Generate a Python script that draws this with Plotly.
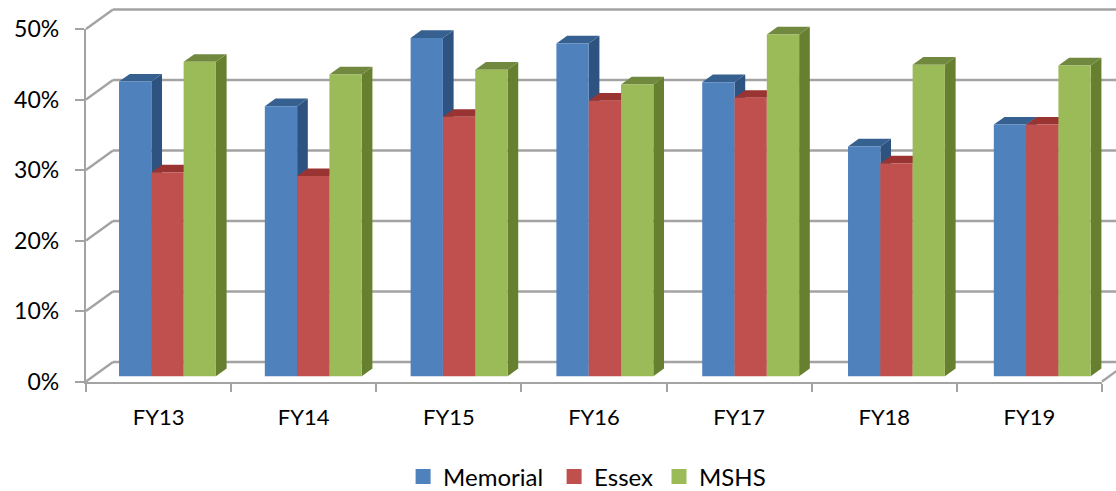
import plotly.graph_objects as go

# Series values in percent
categories = ["FY13", "FY14", "FY15", "FY16", "FY17", "FY18", "FY19"]
memorial = [41.8, 38.3, 48.0, 47.2, 41.7, 32.6, 35.7]
essex = [28.9, 28.4, 36.8, 39.1, 39.5, 30.2, 35.7]
mshs = [44.6, 42.8, 43.5, 41.4, 48.5, 44.2, 44.1]
y_ticks = [0, 10, 20, 30, 40, 50]
y_labels = ["0%", "10%", "20%", "30%", "40%", "50%"]

# Face colours of the extruded columns: front, top, side
series = [
    ("Memorial", memorial, "#4F81BD", "#36608F", "#2F5380"),
    ("Essex", essex, "#C0504D", "#9A3432", "#8E3A38"),
    ("MSHS", mshs, "#9BBB59", "#71893F", "#66802F"),
]

WIDTH, HEIGHT = 1116, 491
GRID = "#A3A3A3"
TEXT = "#000000"
FONT = "Lato"

# Front plane of the chart box, in canvas pixels
PLOT_LEFT, PLOT_RIGHT = 86.0, 1102.0
PLOT_BOTTOM, PLOT_TOP = 381.5, 29.0
CAT_PX = (PLOT_RIGHT - PLOT_LEFT) / len(categories)
PCT_PX = (PLOT_BOTTOM - PLOT_TOP) / 50.0

# Oblique projection: how far one full unit of depth moves a point
DEPTH_X = 27.0 / CAT_PX
DEPTH_Y = 19.5 / PCT_PX

# Column placement within the box
BAR_WIDTH = 32.3 / CAT_PX
BAR_PITCH = 145.8 / CAT_PX
BAR_SHIFT = 8.9 / CAT_PX
BAR_LIFT = 5.2 / PCT_PX
SIDE_X = 10.7 / CAT_PX
SIDE_Y = 7.7 / PCT_PX

# Left edge of each legend entry, as a fraction of the canvas width
LEGEND_X = [0.3612, 0.4965, 0.5905]


def path(points):
    head = f"M{points[0][0]},{points[0][1]}"
    return head + "".join(f" L{x},{y}" for x, y in points[1:]) + " Z"


def polygon(points, color):
    return dict(type="path", xref="x", yref="y", layer="below", path=path(points),
                fillcolor=color, line=dict(width=0))


def segment(x0, y0, x1, y1):
    return dict(type="line", xref="x", yref="y", layer="below",
                x0=x0, y0=y0, x1=x1, y1=y1, line=dict(color=GRID, width=2.4))


def legend_box(x):
    return dict(orientation="h", x=x, xanchor="left", y=0.0285, yanchor="middle",
                font=dict(size=24, family=FONT, color=TEXT), bgcolor="rgba(0,0,0,0)")


left, right = -0.5, len(categories) - 0.5
shapes = []

# Back wall gridlines and the diagonals joining them to the front axis
for v in y_ticks:
    shapes.append(segment(left + DEPTH_X, v + DEPTH_Y, right + DEPTH_X, v + DEPTH_Y))
    shapes.append(segment(left, v, left + DEPTH_X, v + DEPTH_Y))
shapes.append(segment(right, 0, right + DEPTH_X, DEPTH_Y))

fig = go.Figure()

# Column sides and tops go under the fronts, painted left to right
for s, (name, values, front, top, side) in enumerate(series):
    xs = [i * BAR_PITCH + BAR_SHIFT + (s - 1) * BAR_WIDTH for i in range(len(values))]
    for x, v in zip(xs, values):
        x0, x1 = x - BAR_WIDTH / 2, x + BAR_WIDTH / 2
        y0, y1 = BAR_LIFT, v + BAR_LIFT
        shapes.append(polygon([(x1, y0), (x1 + SIDE_X, y0 + SIDE_Y),
                               (x1 + SIDE_X, y1 + SIDE_Y), (x1, y1)], side))
        shapes.append(polygon([(x0, y1), (x0 + SIDE_X, y1 + SIDE_Y),
                               (x1 + SIDE_X, y1 + SIDE_Y), (x1, y1)], top))
    fig.add_trace(go.Bar(x=xs, y=values, base=BAR_LIFT, width=BAR_WIDTH, name=name,
                         marker=dict(color=front, line=dict(width=0)),
                         xaxis="x2", yaxis="y2", showlegend=False))

# Legend entries with larger square swatches, one placed legend per series
for s, (name, values, front, top, side) in enumerate(series):
    fig.add_trace(go.Scatter(x=[None], y=[None], mode="markers", name=name,
                             marker=dict(symbol="square", size=15, color=front),
                             xaxis="x2", yaxis="y2", showlegend=True,
                             legend="legend" if s == 0 else f"legend{s + 1}"))

axis_line = dict(showline=True, linecolor=GRID, linewidth=2.4, showgrid=False, zeroline=False)

fig.update_layout(
    width=WIDTH,
    height=HEIGHT,
    autosize=False,
    margin=dict(l=0, r=0, t=0, b=0, autoexpand=False),
    paper_bgcolor="white",
    plot_bgcolor="rgba(0,0,0,0)",
    font=dict(family=FONT, color=TEXT),
    barmode="overlay",
    shapes=shapes,
    # Full-canvas axes carry the box drawing, sharing units with the visible ones
    xaxis=dict(visible=False, domain=[0, 1],
               range=[left - PLOT_LEFT / CAT_PX, left + (WIDTH - PLOT_LEFT) / CAT_PX]),
    yaxis=dict(visible=False, domain=[0, 1],
               range=[(PLOT_BOTTOM - HEIGHT) / PCT_PX, PLOT_BOTTOM / PCT_PX]),
    xaxis2=dict(
        anchor="y2", domain=[PLOT_LEFT / WIDTH, PLOT_RIGHT / WIDTH], range=[left, right],
        tickmode="array", tickvals=list(range(len(categories))), ticktext=categories,
        ticks="", ticklabelstandoff=15, tickfont=dict(size=22, family=FONT, color=TEXT),
        minor=dict(ticks="outside", ticklen=8, tickwidth=2.4, tickcolor=GRID,
                   tickmode="array",
                   tickvals=[i - 0.5 for i in range(len(categories) + 1)]),
        **axis_line,
    ),
    yaxis2=dict(
        anchor="x2",
        domain=[(HEIGHT - PLOT_BOTTOM) / HEIGHT, (HEIGHT - PLOT_TOP) / HEIGHT],
        range=[0, 50], tickmode="array", tickvals=y_ticks, ticktext=y_labels,
        ticks="outside", ticklen=9, tickwidth=2.4, tickcolor=GRID, ticklabelstandoff=11,
        tickfont=dict(size=23, family=FONT, color=TEXT),
        **axis_line,
    ),
    legend=legend_box(LEGEND_X[0]),
    legend2=legend_box(LEGEND_X[1]),
    legend3=legend_box(LEGEND_X[2]),
)

fig.write_html("out.html", config={"displayModeBar": False})
